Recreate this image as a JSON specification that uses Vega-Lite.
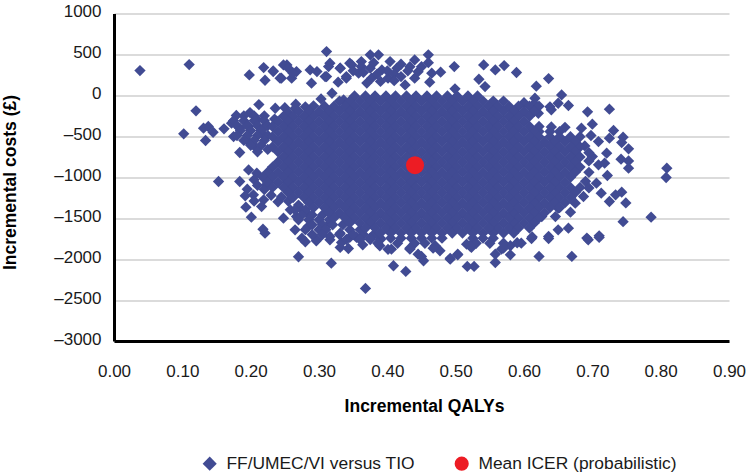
{"$schema":"https://vega.github.io/schema/vega-lite/v6.json","width":615,"height":327.5,"autosize":{"type":"none"},"padding":{"left":114,"top":13.5,"right":21,"bottom":135},"background":"white",
"config":{"font":"Liberation Sans","view":{"stroke":null}},
"encoding":{"x":{"field":"q","type":"quantitative","scale":{"domain":[0,0.9],"nice":false},"axis":{"values":[0,0.1,0.2,0.3,0.4,0.5,0.6,0.7,0.8,0.9],"format":".2f","grid":false,"ticks":false,"domainColor":"#000000","domainWidth":3,"labelFontSize":17,"labelColor":"#1a1a1a","labelPadding":22,"labelFlush":false,"title":"Incremental QALYs","titleFontSize":17.5,"titleFontWeight":"bold","titleColor":"#000000","titleX":310,"titleY":70,"titleBaseline":"alphabetic"}},
"y":{"field":"c","type":"quantitative","scale":{"domain":[-3000,1000],"nice":false},"axis":{"values":[-3000,-2500,-2000,-1500,-1000,-500,0,500,1000],"labelExpr":"datum.value<0?'–'+abs(datum.value):''+datum.value","grid":true,"gridColor":"#cfcfcf","gridWidth":1.3,"ticks":false,"domainColor":"#000000","domainWidth":3,"labelFontSize":17,"labelColor":"#1a1a1a","labelPadding":13,"labelOffset":-2,"title":"Incremental costs (£)","titleFontSize":17.5,"titleFontWeight":"bold","titleColor":"#000000","titleX":-99,"titleY":168.5,"titleBaseline":"alphabetic"}}},
"layer":[
{"mark":{"type":"point","filled":true,"size":128,"opacity":1},
"encoding":{"color":{"datum":"FF/UMEC/VI versus TIO","scale":{"domain":["FF/UMEC/VI versus TIO","Mean ICER (probabilistic)"],"range":["#414b93","#ed1c24"]},"legend":{"orient":"none","legendX":87,"legendY":441,"direction":"horizontal","columns":2,"title":null,"labelFontSize":17.4,"labelColor":"#1a1a1a","labelLimit":0,"symbolSize":200,"columnPadding":38,"labelOffset":8,"encode":{"symbols":{"update":{"size":{"signal":"datum.index==1?170:300"},"fill":{"signal":"datum.index==1?'#ff0000':'#414b93'"}}}}}},"shape":{"datum":"FF/UMEC/VI versus TIO","scale":{"domain":["FF/UMEC/VI versus TIO","Mean ICER (probabilistic)"],"range":["diamond","circle"]}}},
"data":{"values":[
{"q":0.038,"c":303},{"q":0.11,"c":376},{"q":0.198,"c":250},{"q":0.219,"c":340},{"q":0.221,"c":185},{"q":0.233,"c":299},{"q":0.245,"c":210},{"q":0.253,"c":372},{"q":0.26,"c":210},{"q":0.267,"c":291},{"q":0.287,"c":311},{"q":0.289,"c":149},{"q":0.311,"c":535},{"q":0.316,"c":393},{"q":0.309,"c":230},{"q":0.328,"c":161},{"q":0.331,"c":332},{"q":0.345,"c":393},{"q":0.34,"c":210},{"q":0.362,"c":413},{"q":0.358,"c":271},{"q":0.375,"c":495},{"q":0.377,"c":210},{"q":0.375,"c":332},{"q":0.387,"c":495},{"q":0.404,"c":413},{"q":0.414,"c":332},{"q":0.392,"c":311},{"q":0.401,"c":210},{"q":0.44,"c":433},{"q":0.433,"c":350},{"q":0.44,"c":210},{"q":0.426,"c":128},{"q":0.46,"c":495},{"q":0.46,"c":400},{"q":0.465,"c":271},{"q":0.478,"c":283},{"q":0.462,"c":161},{"q":0.498,"c":352},{"q":0.541,"c":372},{"q":0.558,"c":311},{"q":0.571,"c":364},{"q":0.589,"c":279},{"q":0.534,"c":197},{"q":0.636,"c":205},{"q":0.618,"c":112},{"q":0.655,"c":6},{"q":0.499,"c":80},{"q":0.543,"c":108},{"q":0.616,"c":-35},{"q":0.65,"c":-96},{"q":0.665,"c":-124},{"q":0.64,"c":-177},{"q":0.621,"c":-218},{"q":0.693,"c":-201},{"q":0.725,"c":-169},{"q":0.7,"c":-352},{"q":0.684,"c":-401},{"q":0.731,"c":-429},{"q":0.698,"c":-490},{"q":0.725,"c":-523},{"q":0.745,"c":-510},{"q":0.743,"c":-576},{"q":0.753,"c":-653},{"q":0.709,"c":-564},{"q":0.689,"c":-617},{"q":0.721,"c":-706},{"q":0.7,"c":-747},{"q":0.742,"c":-779},{"q":0.753,"c":-800},{"q":0.753,"c":-889},{"q":0.709,"c":-848},{"q":0.718,"c":-828},{"q":0.809,"c":-889},{"q":0.808,"c":-1003},{"q":0.722,"c":-979},{"q":0.706,"c":-1072},{"q":0.713,"c":-1195},{"q":0.687,"c":-1235},{"q":0.734,"c":-1215},{"q":0.743,"c":-1182},{"q":0.725,"c":-1296},{"q":0.749,"c":-1313},{"q":0.675,"c":-1317},{"q":0.668,"c":-1427},{"q":0.786,"c":-1488},{"q":0.745,"c":-1543},{"q":0.665,"c":-1622},{"q":0.65,"c":-1642},{"q":0.636,"c":-1723},{"q":0.692,"c":-1743},{"q":0.71,"c":-1715},{"q":0.626,"c":-1480},{"q":0.646,"c":-1480},{"q":0.65,"c":-1378},
{"q":0.409,"c":-2081},{"q":0.427,"c":-2150},{"q":0.453,"c":-2020},{"q":0.445,"c":-1939},{"q":0.492,"c":-2000},{"q":0.503,"c":-1947},{"q":0.517,"c":-2089},{"q":0.527,"c":-2089},{"q":0.558,"c":-2041},{"q":0.558,"c":-1939},{"q":0.58,"c":-1947},{"q":0.622,"c":-1967},{"q":0.67,"c":-1967},{"q":0.636,"c":-1748},{"q":0.694,"c":-1764},{"q":0.71,"c":-1735},{"q":0.596,"c":-1805},{"q":0.611,"c":-1748},{"q":0.58,"c":-1837},{"q":0.567,"c":-1878},{"q":0.523,"c":-1857},{"q":0.477,"c":-1898},{"q":0.47,"c":-1837},{"q":0.406,"c":-1878},{"q":0.433,"c":-1878},{"q":0.389,"c":-1837},{"q":0.516,"c":-1817},{"q":0.27,"c":-1971},{"q":0.318,"c":-2049},{"q":0.368,"c":-2358},{"q":0.28,"c":-1788},{"q":0.296,"c":-1776},{"q":0.316,"c":-1764},{"q":0.331,"c":-1857},{"q":0.343,"c":-1870},{"q":0.333,"c":-1796},{"q":0.364,"c":-1825},{"q":0.345,"c":-1735},{"q":0.355,"c":-1735},
{"q":0.12,"c":-189},{"q":0.102,"c":-470},{"q":0.131,"c":-401},{"q":0.138,"c":-380},{"q":0.145,"c":-450},{"q":0.134,"c":-551},{"q":0.161,"c":-409},{"q":0.179,"c":-246},{"q":0.172,"c":-340},{"q":0.199,"c":-210},{"q":0.212,"c":-112},{"q":0.21,"c":-299},{"q":0.184,"c":-401},{"q":0.175,"c":-503},{"q":0.197,"c":-380},{"q":0.219,"c":-401},{"q":0.184,"c":-698},{"q":0.206,"c":-625},{"q":0.194,"c":-543},{"q":0.221,"c":-503},{"q":0.236,"c":-157},{"q":0.266,"c":-108},{"q":0.292,"c":-128},{"q":0.303,"c":-43},{"q":0.319,"c":26},{"q":0.336,"c":-55},{"q":0.197,"c":-910},{"q":0.153,"c":-1052},{"q":0.184,"c":-1052},{"q":0.195,"c":-1146},{"q":0.209,"c":-950},{"q":0.192,"c":-1227},{"q":0.204,"c":-1215},{"q":0.219,"c":-1276},{"q":0.193,"c":-1366},{"q":0.216,"c":-1358},{"q":0.201,"c":-1488},{"q":0.218,"c":-1634},{"q":0.221,"c":-1683},{"q":0.223,"c":-1093},{"q":0.248,"c":-1500},{"q":0.258,"c":-1398},{"q":0.267,"c":-1480},{"q":0.282,"c":-1439},{"q":0.265,"c":-1642},{"q":0.284,"c":-1602},{"q":0.275,"c":-1744},{"q":0.297,"c":-1764},{"q":0.316,"c":-1724},{"q":0.331,"c":-1683},{"q":0.316,"c":-1561},
{"q":0.248,"c":372},{"q":0.255,"c":332},{"q":0.262,"c":270},{"q":0.243,"c":210},{"q":0.233,"c":291},{"q":0.297,"c":291},{"q":0.314,"c":352},{"q":0.311,"c":230},{"q":0.331,"c":332},{"q":0.348,"c":372},{"q":0.34,"c":230},{"q":0.362,"c":352},{"q":0.35,"c":300},{"q":0.365,"c":280},{"q":0.38,"c":400},{"q":0.385,"c":260},{"q":0.4,"c":300},{"q":0.41,"c":260},{"q":0.42,"c":380},{"q":0.43,"c":300},{"q":0.445,"c":290},{"q":0.41,"c":180},{"q":0.37,"c":150},{"q":0.39,"c":170},{"q":0.45,"c":350},{"q":0.42,"c":230},
{"q":0.19,"c":-250},{"q":0.205,"c":-250},{"q":0.22,"c":-250},{"q":0.175,"c":-310},{"q":0.19,"c":-310},{"q":0.205,"c":-310},{"q":0.22,"c":-310},{"q":0.235,"c":-290},{"q":0.18,"c":-370},{"q":0.195,"c":-370},{"q":0.21,"c":-370},{"q":0.225,"c":-370},{"q":0.185,"c":-430},{"q":0.2,"c":-430},{"q":0.215,"c":-430},{"q":0.18,"c":-490},{"q":0.195,"c":-490},{"q":0.21,"c":-490},{"q":0.225,"c":-490},{"q":0.19,"c":-550},{"q":0.205,"c":-550},{"q":0.22,"c":-550},{"q":0.2,"c":-610},{"q":0.215,"c":-610},{"q":0.225,"c":-660},{"q":0.21,"c":-690},{"q":0.25,"c":-150},{"q":0.265,"c":-160},{"q":0.28,"c":-140},{"q":0.255,"c":-210},
{"q":0.205,"c":-1030},{"q":0.22,"c":-1150},{"q":0.21,"c":-1100},{"q":0.205,"c":-1290},{"q":0.23,"c":-1220},{"q":0.245,"c":-1240},{"q":0.24,"c":-1300},{"q":0.255,"c":-1290},{"q":0.27,"c":-1340},{"q":0.275,"c":-1400},{"q":0.265,"c":-1400},{"q":0.28,"c":-1400},{"q":0.275,"c":-1460},{"q":0.29,"c":-1460},{"q":0.305,"c":-1460},{"q":0.27,"c":-1520},{"q":0.285,"c":-1520},{"q":0.3,"c":-1520},{"q":0.315,"c":-1520},{"q":0.29,"c":-1580},{"q":0.305,"c":-1580},{"q":0.32,"c":-1580},{"q":0.335,"c":-1580},{"q":0.28,"c":-1640},{"q":0.3,"c":-1640},{"q":0.31,"c":-1640},{"q":0.345,"c":-1640},{"q":0.36,"c":-1640},{"q":0.29,"c":-1700},{"q":0.305,"c":-1700},{"q":0.33,"c":-1700},{"q":0.35,"c":-1700},{"q":0.365,"c":-1700},{"q":0.38,"c":-1700},{"q":0.34,"c":-1760},{"q":0.36,"c":-1760},{"q":0.375,"c":-1760},{"q":0.39,"c":-1760},
{"q":0.652,"c":-1124},{"q":0.668,"c":-1124},{"q":0.682,"c":-1124},{"q":0.645,"c":-1186},{"q":0.66,"c":-1186},{"q":0.675,"c":-1186},{"q":0.622,"c":-1248},{"q":0.638,"c":-1248},{"q":0.652,"c":-1248},{"q":0.668,"c":-1248},{"q":0.615,"c":-1310},{"q":0.63,"c":-1310},{"q":0.645,"c":-1310},{"q":0.66,"c":-1310},{"q":0.608,"c":-1372},{"q":0.622,"c":-1372},{"q":0.638,"c":-1372},{"q":0.652,"c":-1372},{"q":0.585,"c":-1434},{"q":0.6,"c":-1434},{"q":0.615,"c":-1434},{"q":0.63,"c":-1434},{"q":0.592,"c":-1496},{"q":0.608,"c":-1496},{"q":0.622,"c":-1496},{"q":0.57,"c":-1558},{"q":0.585,"c":-1558},{"q":0.6,"c":-1558},{"q":0.615,"c":-1558},{"q":0.562,"c":-1620},{"q":0.578,"c":-1620},{"q":0.592,"c":-1620},{"q":0.608,"c":-1620},{"q":0.54,"c":-1682},{"q":0.555,"c":-1682},{"q":0.57,"c":-1682},{"q":0.585,"c":-1682},
{"q":0.375,"c":-1744},{"q":0.39,"c":-1744},{"q":0.405,"c":-1744},{"q":0.42,"c":-1744},{"q":0.435,"c":-1744},{"q":0.45,"c":-1744},{"q":0.465,"c":-1744},{"q":0.48,"c":-1744},{"q":0.525,"c":-1744},{"q":0.54,"c":-1744},{"q":0.555,"c":-1744},{"q":0.386,"c":-1806},{"q":0.415,"c":-1806},{"q":0.44,"c":-1806},{"q":0.455,"c":-1806},{"q":0.53,"c":-1806},{"q":0.55,"c":-1806},{"q":0.57,"c":-1806},{"q":0.45,"c":-1968},{"q":0.492,"c":-1990},{"q":0.503,"c":-1940},{"q":0.57,"c":-1866},{"q":0.59,"c":-1800},{"q":0.612,"c":-1730},{"q":0.521,"c":-1837},{"q":0.467,"c":-1866},{"q":0.433,"c":-1866},{"q":0.401,"c":-1880},
{"q":0.622,"c":-442},{"q":0.638,"c":-442},{"q":0.652,"c":-442},{"q":0.66,"c":-390},{"q":0.64,"c":-385},{"q":0.622,"c":-380},{"q":0.54,"c":-70},{"q":0.555,"c":-70},{"q":0.57,"c":-70},{"q":0.6,"c":-90},{"q":0.615,"c":-100},{"q":0.578,"c":-132},{"q":0.592,"c":-132},{"q":0.608,"c":-132},{"q":0.622,"c":-132},{"q":0.638,"c":-140},{"q":0.6,"c":-194},{"q":0.615,"c":-194},{"q":0.608,"c":-256},{"q":0.695,"c":-700},{"q":0.695,"c":-800},{"q":0.695,"c":-940},{"q":0.69,"c":-1050},{"q":0.695,"c":-1130},{"q":0.668,"c":-504},{"q":0.682,"c":-504},
{"q":0.352,"c":-8},{"q":0.368,"c":-8},{"q":0.382,"c":-8},{"q":0.398,"c":-8},{"q":0.412,"c":-8},{"q":0.428,"c":-8},{"q":0.442,"c":-8},{"q":0.458,"c":-8},{"q":0.472,"c":-8},{"q":0.488,"c":-8},{"q":0.502,"c":-8},{"q":0.518,"c":-8},{"q":0.532,"c":-8},
{"q":0.33,"c":-70},{"q":0.345,"c":-70},{"q":0.36,"c":-70},{"q":0.375,"c":-70},{"q":0.39,"c":-70},{"q":0.405,"c":-70},{"q":0.42,"c":-70},{"q":0.435,"c":-70},{"q":0.45,"c":-70},{"q":0.465,"c":-70},{"q":0.48,"c":-70},{"q":0.495,"c":-70},{"q":0.51,"c":-70},{"q":0.525,"c":-70},
{"q":0.308,"c":-132},{"q":0.322,"c":-132},{"q":0.338,"c":-132},{"q":0.352,"c":-132},{"q":0.368,"c":-132},{"q":0.382,"c":-132},{"q":0.398,"c":-132},{"q":0.412,"c":-132},{"q":0.428,"c":-132},{"q":0.442,"c":-132},{"q":0.458,"c":-132},{"q":0.472,"c":-132},{"q":0.488,"c":-132},{"q":0.502,"c":-132},{"q":0.518,"c":-132},{"q":0.532,"c":-132},{"q":0.548,"c":-132},{"q":0.562,"c":-132},
{"q":0.27,"c":-194},{"q":0.285,"c":-194},{"q":0.3,"c":-194},{"q":0.315,"c":-194},{"q":0.33,"c":-194},{"q":0.345,"c":-194},{"q":0.36,"c":-194},{"q":0.375,"c":-194},{"q":0.39,"c":-194},{"q":0.405,"c":-194},{"q":0.42,"c":-194},{"q":0.435,"c":-194},{"q":0.45,"c":-194},{"q":0.465,"c":-194},{"q":0.48,"c":-194},{"q":0.495,"c":-194},{"q":0.51,"c":-194},{"q":0.525,"c":-194},{"q":0.54,"c":-194},{"q":0.555,"c":-194},{"q":0.57,"c":-194},{"q":0.585,"c":-194},
{"q":0.248,"c":-256},{"q":0.262,"c":-256},{"q":0.278,"c":-256},{"q":0.292,"c":-256},{"q":0.308,"c":-256},{"q":0.322,"c":-256},{"q":0.338,"c":-256},{"q":0.352,"c":-256},{"q":0.368,"c":-256},{"q":0.382,"c":-256},{"q":0.398,"c":-256},{"q":0.412,"c":-256},{"q":0.428,"c":-256},{"q":0.442,"c":-256},{"q":0.458,"c":-256},{"q":0.472,"c":-256},{"q":0.488,"c":-256},{"q":0.502,"c":-256},{"q":0.518,"c":-256},{"q":0.532,"c":-256},{"q":0.548,"c":-256},{"q":0.562,"c":-256},{"q":0.578,"c":-256},{"q":0.592,"c":-256},
{"q":0.24,"c":-318},{"q":0.255,"c":-318},{"q":0.27,"c":-318},{"q":0.285,"c":-318},{"q":0.3,"c":-318},{"q":0.315,"c":-318},{"q":0.33,"c":-318},{"q":0.345,"c":-318},{"q":0.36,"c":-318},{"q":0.375,"c":-318},{"q":0.39,"c":-318},{"q":0.405,"c":-318},{"q":0.42,"c":-318},{"q":0.435,"c":-318},{"q":0.45,"c":-318},{"q":0.465,"c":-318},{"q":0.48,"c":-318},{"q":0.495,"c":-318},{"q":0.51,"c":-318},{"q":0.525,"c":-318},{"q":0.54,"c":-318},{"q":0.555,"c":-318},{"q":0.57,"c":-318},{"q":0.585,"c":-318},{"q":0.6,"c":-318},
{"q":0.232,"c":-380},{"q":0.248,"c":-380},{"q":0.262,"c":-380},{"q":0.278,"c":-380},{"q":0.292,"c":-380},{"q":0.308,"c":-380},{"q":0.322,"c":-380},{"q":0.338,"c":-380},{"q":0.352,"c":-380},{"q":0.368,"c":-380},{"q":0.382,"c":-380},{"q":0.398,"c":-380},{"q":0.412,"c":-380},{"q":0.428,"c":-380},{"q":0.442,"c":-380},{"q":0.458,"c":-380},{"q":0.472,"c":-380},{"q":0.488,"c":-380},{"q":0.502,"c":-380},{"q":0.518,"c":-380},{"q":0.532,"c":-380},{"q":0.548,"c":-380},{"q":0.562,"c":-380},{"q":0.578,"c":-380},{"q":0.592,"c":-380},{"q":0.608,"c":-380},
{"q":0.24,"c":-442},{"q":0.255,"c":-442},{"q":0.27,"c":-442},{"q":0.285,"c":-442},{"q":0.3,"c":-442},{"q":0.315,"c":-442},{"q":0.33,"c":-442},{"q":0.345,"c":-442},{"q":0.36,"c":-442},{"q":0.375,"c":-442},{"q":0.39,"c":-442},{"q":0.405,"c":-442},{"q":0.42,"c":-442},{"q":0.435,"c":-442},{"q":0.45,"c":-442},{"q":0.465,"c":-442},{"q":0.48,"c":-442},{"q":0.495,"c":-442},{"q":0.51,"c":-442},{"q":0.525,"c":-442},{"q":0.54,"c":-442},{"q":0.555,"c":-442},{"q":0.57,"c":-442},{"q":0.585,"c":-442},{"q":0.6,"c":-442},{"q":0.615,"c":-442},
{"q":0.232,"c":-504},{"q":0.248,"c":-504},{"q":0.262,"c":-504},{"q":0.278,"c":-504},{"q":0.292,"c":-504},{"q":0.308,"c":-504},{"q":0.322,"c":-504},{"q":0.338,"c":-504},{"q":0.352,"c":-504},{"q":0.368,"c":-504},{"q":0.382,"c":-504},{"q":0.398,"c":-504},{"q":0.412,"c":-504},{"q":0.428,"c":-504},{"q":0.442,"c":-504},{"q":0.458,"c":-504},{"q":0.472,"c":-504},{"q":0.488,"c":-504},{"q":0.502,"c":-504},{"q":0.518,"c":-504},{"q":0.532,"c":-504},{"q":0.548,"c":-504},{"q":0.562,"c":-504},{"q":0.578,"c":-504},{"q":0.592,"c":-504},{"q":0.608,"c":-504},{"q":0.622,"c":-504},{"q":0.638,"c":-504},{"q":0.652,"c":-504},
{"q":0.24,"c":-566},{"q":0.255,"c":-566},{"q":0.27,"c":-566},{"q":0.285,"c":-566},{"q":0.3,"c":-566},{"q":0.315,"c":-566},{"q":0.33,"c":-566},{"q":0.345,"c":-566},{"q":0.36,"c":-566},{"q":0.375,"c":-566},{"q":0.39,"c":-566},{"q":0.405,"c":-566},{"q":0.42,"c":-566},{"q":0.435,"c":-566},{"q":0.45,"c":-566},{"q":0.465,"c":-566},{"q":0.48,"c":-566},{"q":0.495,"c":-566},{"q":0.51,"c":-566},{"q":0.525,"c":-566},{"q":0.54,"c":-566},{"q":0.555,"c":-566},{"q":0.57,"c":-566},{"q":0.585,"c":-566},{"q":0.6,"c":-566},{"q":0.615,"c":-566},{"q":0.63,"c":-566},{"q":0.645,"c":-566},{"q":0.66,"c":-566},{"q":0.675,"c":-566},
{"q":0.232,"c":-628},{"q":0.248,"c":-628},{"q":0.262,"c":-628},{"q":0.278,"c":-628},{"q":0.292,"c":-628},{"q":0.308,"c":-628},{"q":0.322,"c":-628},{"q":0.338,"c":-628},{"q":0.352,"c":-628},{"q":0.368,"c":-628},{"q":0.382,"c":-628},{"q":0.398,"c":-628},{"q":0.412,"c":-628},{"q":0.428,"c":-628},{"q":0.442,"c":-628},{"q":0.458,"c":-628},{"q":0.472,"c":-628},{"q":0.488,"c":-628},{"q":0.502,"c":-628},{"q":0.518,"c":-628},{"q":0.532,"c":-628},{"q":0.548,"c":-628},{"q":0.562,"c":-628},{"q":0.578,"c":-628},{"q":0.592,"c":-628},{"q":0.608,"c":-628},{"q":0.622,"c":-628},{"q":0.638,"c":-628},{"q":0.652,"c":-628},{"q":0.668,"c":-628},{"q":0.682,"c":-628},
{"q":0.24,"c":-690},{"q":0.255,"c":-690},{"q":0.27,"c":-690},{"q":0.285,"c":-690},{"q":0.3,"c":-690},{"q":0.315,"c":-690},{"q":0.33,"c":-690},{"q":0.345,"c":-690},{"q":0.36,"c":-690},{"q":0.375,"c":-690},{"q":0.39,"c":-690},{"q":0.405,"c":-690},{"q":0.42,"c":-690},{"q":0.435,"c":-690},{"q":0.45,"c":-690},{"q":0.465,"c":-690},{"q":0.48,"c":-690},{"q":0.495,"c":-690},{"q":0.51,"c":-690},{"q":0.525,"c":-690},{"q":0.54,"c":-690},{"q":0.555,"c":-690},{"q":0.57,"c":-690},{"q":0.585,"c":-690},{"q":0.6,"c":-690},{"q":0.615,"c":-690},{"q":0.63,"c":-690},{"q":0.645,"c":-690},{"q":0.66,"c":-690},{"q":0.675,"c":-690},
{"q":0.248,"c":-752},{"q":0.262,"c":-752},{"q":0.278,"c":-752},{"q":0.292,"c":-752},{"q":0.308,"c":-752},{"q":0.322,"c":-752},{"q":0.338,"c":-752},{"q":0.352,"c":-752},{"q":0.368,"c":-752},{"q":0.382,"c":-752},{"q":0.398,"c":-752},{"q":0.412,"c":-752},{"q":0.428,"c":-752},{"q":0.442,"c":-752},{"q":0.458,"c":-752},{"q":0.472,"c":-752},{"q":0.488,"c":-752},{"q":0.502,"c":-752},{"q":0.518,"c":-752},{"q":0.532,"c":-752},{"q":0.548,"c":-752},{"q":0.562,"c":-752},{"q":0.578,"c":-752},{"q":0.592,"c":-752},{"q":0.608,"c":-752},{"q":0.622,"c":-752},{"q":0.638,"c":-752},{"q":0.652,"c":-752},{"q":0.668,"c":-752},{"q":0.682,"c":-752},
{"q":0.24,"c":-814},{"q":0.255,"c":-814},{"q":0.27,"c":-814},{"q":0.285,"c":-814},{"q":0.3,"c":-814},{"q":0.315,"c":-814},{"q":0.33,"c":-814},{"q":0.345,"c":-814},{"q":0.36,"c":-814},{"q":0.375,"c":-814},{"q":0.39,"c":-814},{"q":0.405,"c":-814},{"q":0.42,"c":-814},{"q":0.435,"c":-814},{"q":0.45,"c":-814},{"q":0.465,"c":-814},{"q":0.48,"c":-814},{"q":0.495,"c":-814},{"q":0.51,"c":-814},{"q":0.525,"c":-814},{"q":0.54,"c":-814},{"q":0.555,"c":-814},{"q":0.57,"c":-814},{"q":0.585,"c":-814},{"q":0.6,"c":-814},{"q":0.615,"c":-814},{"q":0.63,"c":-814},{"q":0.645,"c":-814},{"q":0.66,"c":-814},{"q":0.675,"c":-814},
{"q":0.232,"c":-876},{"q":0.248,"c":-876},{"q":0.262,"c":-876},{"q":0.278,"c":-876},{"q":0.292,"c":-876},{"q":0.308,"c":-876},{"q":0.322,"c":-876},{"q":0.338,"c":-876},{"q":0.352,"c":-876},{"q":0.368,"c":-876},{"q":0.382,"c":-876},{"q":0.398,"c":-876},{"q":0.412,"c":-876},{"q":0.428,"c":-876},{"q":0.442,"c":-876},{"q":0.458,"c":-876},{"q":0.472,"c":-876},{"q":0.488,"c":-876},{"q":0.502,"c":-876},{"q":0.518,"c":-876},{"q":0.532,"c":-876},{"q":0.548,"c":-876},{"q":0.562,"c":-876},{"q":0.578,"c":-876},{"q":0.592,"c":-876},{"q":0.608,"c":-876},{"q":0.622,"c":-876},{"q":0.638,"c":-876},{"q":0.652,"c":-876},{"q":0.668,"c":-876},{"q":0.682,"c":-876},
{"q":0.225,"c":-938},{"q":0.24,"c":-938},{"q":0.255,"c":-938},{"q":0.27,"c":-938},{"q":0.285,"c":-938},{"q":0.3,"c":-938},{"q":0.315,"c":-938},{"q":0.33,"c":-938},{"q":0.345,"c":-938},{"q":0.36,"c":-938},{"q":0.375,"c":-938},{"q":0.39,"c":-938},{"q":0.405,"c":-938},{"q":0.42,"c":-938},{"q":0.435,"c":-938},{"q":0.45,"c":-938},{"q":0.465,"c":-938},{"q":0.48,"c":-938},{"q":0.495,"c":-938},{"q":0.51,"c":-938},{"q":0.525,"c":-938},{"q":0.54,"c":-938},{"q":0.555,"c":-938},{"q":0.57,"c":-938},{"q":0.585,"c":-938},{"q":0.6,"c":-938},{"q":0.615,"c":-938},{"q":0.63,"c":-938},{"q":0.645,"c":-938},{"q":0.66,"c":-938},{"q":0.675,"c":-938},
{"q":0.218,"c":-1000},{"q":0.232,"c":-1000},{"q":0.248,"c":-1000},{"q":0.262,"c":-1000},{"q":0.278,"c":-1000},{"q":0.292,"c":-1000},{"q":0.308,"c":-1000},{"q":0.322,"c":-1000},{"q":0.338,"c":-1000},{"q":0.352,"c":-1000},{"q":0.368,"c":-1000},{"q":0.382,"c":-1000},{"q":0.398,"c":-1000},{"q":0.412,"c":-1000},{"q":0.428,"c":-1000},{"q":0.442,"c":-1000},{"q":0.458,"c":-1000},{"q":0.472,"c":-1000},{"q":0.488,"c":-1000},{"q":0.502,"c":-1000},{"q":0.518,"c":-1000},{"q":0.532,"c":-1000},{"q":0.548,"c":-1000},{"q":0.562,"c":-1000},{"q":0.578,"c":-1000},{"q":0.592,"c":-1000},{"q":0.608,"c":-1000},{"q":0.622,"c":-1000},{"q":0.638,"c":-1000},{"q":0.652,"c":-1000},{"q":0.668,"c":-1000},
{"q":0.225,"c":-1062},{"q":0.24,"c":-1062},{"q":0.255,"c":-1062},{"q":0.27,"c":-1062},{"q":0.285,"c":-1062},{"q":0.3,"c":-1062},{"q":0.315,"c":-1062},{"q":0.33,"c":-1062},{"q":0.345,"c":-1062},{"q":0.36,"c":-1062},{"q":0.375,"c":-1062},{"q":0.39,"c":-1062},{"q":0.405,"c":-1062},{"q":0.42,"c":-1062},{"q":0.435,"c":-1062},{"q":0.45,"c":-1062},{"q":0.465,"c":-1062},{"q":0.48,"c":-1062},{"q":0.495,"c":-1062},{"q":0.51,"c":-1062},{"q":0.525,"c":-1062},{"q":0.54,"c":-1062},{"q":0.555,"c":-1062},{"q":0.57,"c":-1062},{"q":0.585,"c":-1062},{"q":0.6,"c":-1062},{"q":0.615,"c":-1062},{"q":0.63,"c":-1062},{"q":0.645,"c":-1062},{"q":0.66,"c":-1062},
{"q":0.232,"c":-1124},{"q":0.248,"c":-1124},{"q":0.262,"c":-1124},{"q":0.278,"c":-1124},{"q":0.292,"c":-1124},{"q":0.308,"c":-1124},{"q":0.322,"c":-1124},{"q":0.338,"c":-1124},{"q":0.352,"c":-1124},{"q":0.368,"c":-1124},{"q":0.382,"c":-1124},{"q":0.398,"c":-1124},{"q":0.412,"c":-1124},{"q":0.428,"c":-1124},{"q":0.442,"c":-1124},{"q":0.458,"c":-1124},{"q":0.472,"c":-1124},{"q":0.488,"c":-1124},{"q":0.502,"c":-1124},{"q":0.518,"c":-1124},{"q":0.532,"c":-1124},{"q":0.548,"c":-1124},{"q":0.562,"c":-1124},{"q":0.578,"c":-1124},{"q":0.592,"c":-1124},{"q":0.608,"c":-1124},{"q":0.622,"c":-1124},{"q":0.638,"c":-1124},
{"q":0.255,"c":-1186},{"q":0.27,"c":-1186},{"q":0.285,"c":-1186},{"q":0.3,"c":-1186},{"q":0.315,"c":-1186},{"q":0.33,"c":-1186},{"q":0.345,"c":-1186},{"q":0.36,"c":-1186},{"q":0.375,"c":-1186},{"q":0.39,"c":-1186},{"q":0.405,"c":-1186},{"q":0.42,"c":-1186},{"q":0.435,"c":-1186},{"q":0.45,"c":-1186},{"q":0.465,"c":-1186},{"q":0.48,"c":-1186},{"q":0.495,"c":-1186},{"q":0.51,"c":-1186},{"q":0.525,"c":-1186},{"q":0.54,"c":-1186},{"q":0.555,"c":-1186},{"q":0.57,"c":-1186},{"q":0.585,"c":-1186},{"q":0.6,"c":-1186},{"q":0.615,"c":-1186},{"q":0.63,"c":-1186},
{"q":0.262,"c":-1248},{"q":0.278,"c":-1248},{"q":0.292,"c":-1248},{"q":0.308,"c":-1248},{"q":0.322,"c":-1248},{"q":0.338,"c":-1248},{"q":0.352,"c":-1248},{"q":0.368,"c":-1248},{"q":0.382,"c":-1248},{"q":0.398,"c":-1248},{"q":0.412,"c":-1248},{"q":0.428,"c":-1248},{"q":0.442,"c":-1248},{"q":0.458,"c":-1248},{"q":0.472,"c":-1248},{"q":0.488,"c":-1248},{"q":0.502,"c":-1248},{"q":0.518,"c":-1248},{"q":0.532,"c":-1248},{"q":0.548,"c":-1248},{"q":0.562,"c":-1248},{"q":0.578,"c":-1248},{"q":0.592,"c":-1248},{"q":0.608,"c":-1248},
{"q":0.285,"c":-1310},{"q":0.3,"c":-1310},{"q":0.315,"c":-1310},{"q":0.33,"c":-1310},{"q":0.345,"c":-1310},{"q":0.36,"c":-1310},{"q":0.375,"c":-1310},{"q":0.39,"c":-1310},{"q":0.405,"c":-1310},{"q":0.42,"c":-1310},{"q":0.435,"c":-1310},{"q":0.45,"c":-1310},{"q":0.465,"c":-1310},{"q":0.48,"c":-1310},{"q":0.495,"c":-1310},{"q":0.51,"c":-1310},{"q":0.525,"c":-1310},{"q":0.54,"c":-1310},{"q":0.555,"c":-1310},{"q":0.57,"c":-1310},{"q":0.585,"c":-1310},{"q":0.6,"c":-1310},
{"q":0.292,"c":-1372},{"q":0.308,"c":-1372},{"q":0.322,"c":-1372},{"q":0.338,"c":-1372},{"q":0.352,"c":-1372},{"q":0.368,"c":-1372},{"q":0.382,"c":-1372},{"q":0.398,"c":-1372},{"q":0.412,"c":-1372},{"q":0.428,"c":-1372},{"q":0.442,"c":-1372},{"q":0.458,"c":-1372},{"q":0.472,"c":-1372},{"q":0.488,"c":-1372},{"q":0.502,"c":-1372},{"q":0.518,"c":-1372},{"q":0.532,"c":-1372},{"q":0.548,"c":-1372},{"q":0.562,"c":-1372},{"q":0.578,"c":-1372},{"q":0.592,"c":-1372},
{"q":0.315,"c":-1434},{"q":0.33,"c":-1434},{"q":0.345,"c":-1434},{"q":0.36,"c":-1434},{"q":0.375,"c":-1434},{"q":0.39,"c":-1434},{"q":0.405,"c":-1434},{"q":0.42,"c":-1434},{"q":0.435,"c":-1434},{"q":0.45,"c":-1434},{"q":0.465,"c":-1434},{"q":0.48,"c":-1434},{"q":0.495,"c":-1434},{"q":0.51,"c":-1434},{"q":0.525,"c":-1434},{"q":0.54,"c":-1434},{"q":0.555,"c":-1434},{"q":0.57,"c":-1434},
{"q":0.322,"c":-1496},{"q":0.338,"c":-1496},{"q":0.352,"c":-1496},{"q":0.368,"c":-1496},{"q":0.382,"c":-1496},{"q":0.398,"c":-1496},{"q":0.412,"c":-1496},{"q":0.428,"c":-1496},{"q":0.442,"c":-1496},{"q":0.458,"c":-1496},{"q":0.472,"c":-1496},{"q":0.488,"c":-1496},{"q":0.502,"c":-1496},{"q":0.518,"c":-1496},{"q":0.532,"c":-1496},{"q":0.548,"c":-1496},{"q":0.562,"c":-1496},{"q":0.578,"c":-1496},
{"q":0.345,"c":-1558},{"q":0.36,"c":-1558},{"q":0.375,"c":-1558},{"q":0.39,"c":-1558},{"q":0.405,"c":-1558},{"q":0.42,"c":-1558},{"q":0.435,"c":-1558},{"q":0.45,"c":-1558},{"q":0.465,"c":-1558},{"q":0.48,"c":-1558},{"q":0.495,"c":-1558},{"q":0.51,"c":-1558},{"q":0.525,"c":-1558},{"q":0.54,"c":-1558},{"q":0.555,"c":-1558},
{"q":0.368,"c":-1620},{"q":0.382,"c":-1620},{"q":0.398,"c":-1620},{"q":0.412,"c":-1620},{"q":0.428,"c":-1620},{"q":0.442,"c":-1620},{"q":0.458,"c":-1620},{"q":0.472,"c":-1620},{"q":0.488,"c":-1620},{"q":0.502,"c":-1620},{"q":0.518,"c":-1620},{"q":0.532,"c":-1620},{"q":0.548,"c":-1620},
{"q":0.39,"c":-1682},{"q":0.405,"c":-1682},{"q":0.42,"c":-1682},{"q":0.435,"c":-1682},{"q":0.45,"c":-1682},{"q":0.465,"c":-1682},{"q":0.48,"c":-1682},{"q":0.495,"c":-1682},{"q":0.51,"c":-1682},{"q":0.525,"c":-1682}
]}},
{"mark":{"type":"point","filled":true,"size":324,"opacity":1},
"encoding":{"color":{"datum":"Mean ICER (probabilistic)"},"shape":{"datum":"Mean ICER (probabilistic)"}},
"data":{"values":[{"q":0.4405,"c":-853}]}}
]}
